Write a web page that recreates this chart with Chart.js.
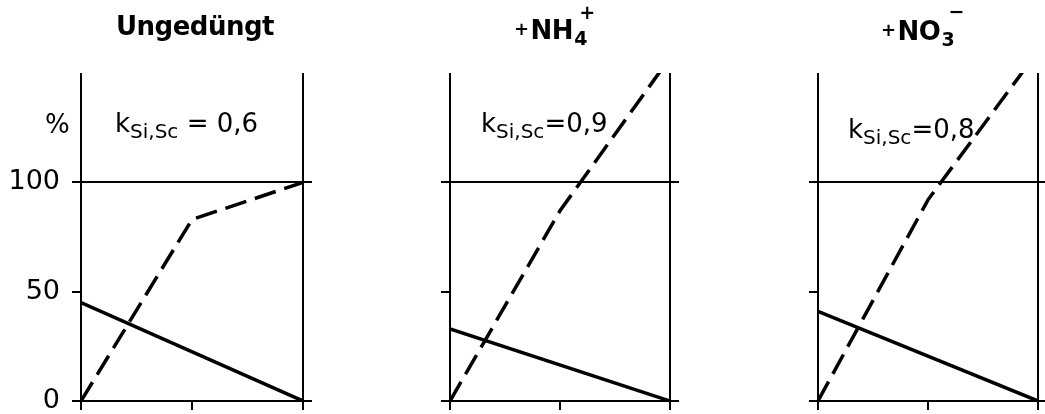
<!DOCTYPE html>
<html>
<head>
<meta charset="utf-8">
<script src="https://cdn.jsdelivr.net/npm/chart.js@4"></script>
<style>
  body { margin: 0; width: 1045px; height: 414px; overflow: hidden; background: #fff; position: relative; font-family: "DejaVu Sans", sans-serif; color: #000; }
  canvas { position: absolute; top: 0; }
  .lbl { position: absolute; line-height: 1; white-space: nowrap; }
  .title { font-size: 26px; font-weight: bold; letter-spacing: -0.5px; }
  .pl { font-size: 18px; vertical-align: 4px; margin-right: 2px; }
  .stk { display: inline-block; position: relative; width: 16px; height: 26px; }
  .stk span { position: absolute; font-size: 19px; line-height: 1; }
  .k { font-size: 26px; }
  .k sub { font-size: 20px; vertical-align: -6px; }
</style>
</head>
<body>
<canvas id="p1" width="312" height="433" style="left:0px"></canvas>
<canvas id="p2" width="238" height="433" style="left:441px"></canvas>
<canvas id="p3" width="238" height="433" style="left:809px"></canvas>

<div class="lbl title" style="left:116px; top:13px">Ungedüngt</div>
<div class="lbl title" style="left:514px; top:13px"><span class="pl">+</span>NH<span class="stk"><span style="left:6px; top:-10px">+</span><span style="left:1px; top:16px">4</span></span></div>
<div class="lbl title" style="left:881px; top:14px"><span class="pl">+</span>NO<span class="stk"><span style="left:8px; top:-12px">−</span><span style="left:1px; top:16px">3</span></span></div>

<div class="lbl" style="left:45px; top:111px; font-size:26px">%</div>
<div class="lbl k" style="left:115px; top:110px">k<sub>Si,Sc</sub> = 0,6</div>
<div class="lbl k" style="left:481px; top:110px">k<sub>Si,Sc</sub>=0,9</div>
<div class="lbl k" style="left:848px; top:116px">k<sub>Si,Sc</sub>=0,8</div>

<script>
// x positions (relative units across each panel)
const dashedX = [0, 1, 2];
const solidX = [0, 2];
const yTicks = [0, 50, 100];

// Ungedüngt
const ungeduengtDashed = [0, 83, 100];
const ungeduengtSolid = [45, 0];
// +NH4+
const nh4Dashed = [0, 87, 157];
const nh4Solid = [33, 0];
// +NO3-
const no3Dashed = [0, 92, 160];
const no3Solid = [41, 0];

const clear = 'rgba(0,0,0,0)';

function panel(id, dashed, solid, showLabels, leftW) {
  new Chart(document.getElementById(id), {
    type: 'line',
    data: {
      datasets: [
        {
          data: dashedX.map((x, i) => ({ x: x, y: dashed[i] })),
          borderColor: '#000',
          borderWidth: 3.5,
          borderDash: [22, 9],
          pointRadius: 0,
          tension: 0
        },
        {
          data: solidX.map((x, i) => ({ x: x, y: solid[i] })),
          borderColor: '#000',
          borderWidth: 3.5,
          pointRadius: 0,
          tension: 0
        }
      ]
    },
    options: {
      responsive: false,
      animation: false,
      events: [],
      layout: { padding: { top: 73, bottom: 0, left: 0, right: 0 } },
      plugins: { legend: { display: false }, tooltip: { enabled: false } },
      scales: {
        x: {
          type: 'linear', min: 0, max: 2, position: 'bottom',
          border: { display: false },
          ticks: { stepSize: 1, display: false },
          grid: {
            color: c => c.tick && c.tick.value === 1 ? clear : '#000',
            tickColor: '#000',
            lineWidth: 2,
            tickLength: 9
          },
          afterFit: s => { s.height = 32; }
        },
        y: {
          type: 'linear', min: 0, max: 150, position: 'left',
          border: { display: false },
          ticks: {
            stepSize: 50,
            display: showLabels,
            padding: 12,
            color: '#000',
            font: { family: 'DejaVu Sans', size: 27 },
            callback: v => yTicks.includes(v) ? String(v) : ''
          },
          grid: {
            color: c => c.tick && (c.tick.value === 0 || c.tick.value === 100) ? '#000' : clear,
            tickColor: c => c.tick && c.tick.value === 150 ? clear : '#000',
            lineWidth: 2,
            tickLength: 9
          },
          afterFit: s => { s.width = leftW; }
        },
        y2: {
          type: 'linear', min: 0, max: 150, position: 'right',
          border: { display: false },
          ticks: { stepSize: 50, display: false },
          grid: {
            drawOnChartArea: false,
            tickColor: c => c.tick && (c.tick.value === 0 || c.tick.value === 100) ? '#000' : clear,
            lineWidth: 2,
            tickLength: 9
          },
          afterFit: s => { s.width = 9; }
        }
      }
    }
  });
}

panel('p1', ungeduengtDashed, ungeduengtSolid, true, 81);
panel('p2', nh4Dashed, nh4Solid, false, 9);
panel('p3', no3Dashed, no3Solid, false, 9);
</script>
</body>
</html>
